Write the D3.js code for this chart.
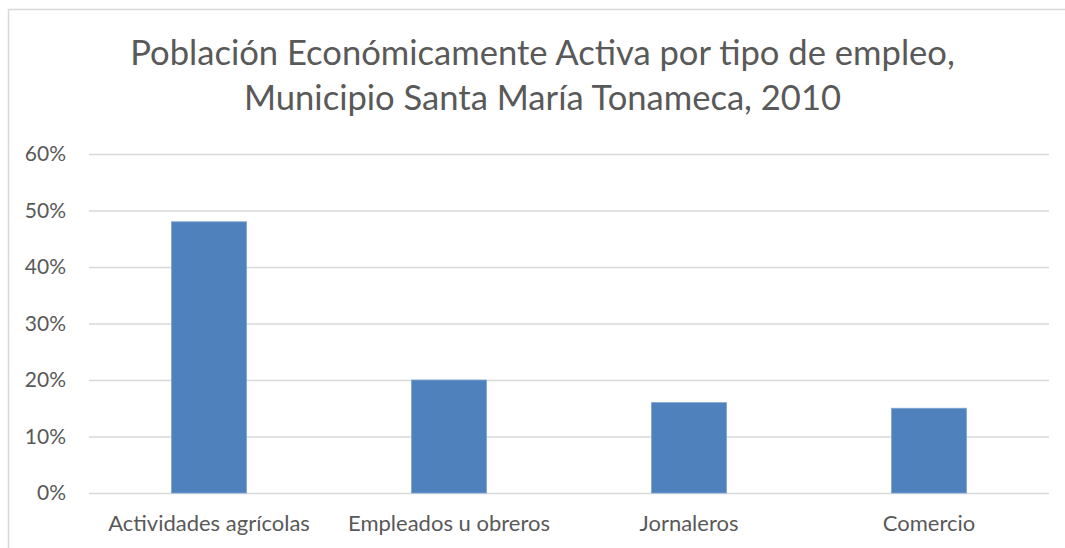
<!DOCTYPE html>
<html>
<head>
<meta charset="utf-8">
<script src="https://cdn.jsdelivr.net/npm/d3@7"></script>
<style>
  body { margin: 0; background: #fff; }
  svg { display: block; font-family: Lato, "Open Sans", sans-serif; }
</style>
</head>
<body>
<svg id="chart" width="1065" height="548"></svg>
<script>
// datos
const categories = ["Actividades agrícolas", "Empleados u obreros", "Jornaleros", "Comercio"];
const values = [0.48, 0.20, 0.16, 0.15];
const yTicks = [0, 0.1, 0.2, 0.3, 0.4, 0.5, 0.6];
const titleLines = ["Población Económicamente Activa por tipo de empleo,", "Municipio Santa María Tonameca, 2010"];

const width = 1065, height = 548;
const margin = {top: 154, right: 16, bottom: 55, left: 89};

const barColor = "#4f81bd";
const gridColor = "#d9d9d9";
const textColor = "#595959";

const svg = d3.select("#chart");

// borde del gráfico
svg.append("rect")
    .attr("x", 8.5).attr("y", 9.5)
    .attr("width", 1070).attr("height", 600)
    .attr("fill", "#fff")
    .attr("stroke", gridColor)
    .attr("stroke-width", 1.5);

const x = d3.scaleBand()
    .domain(categories)
    .range([margin.left, width - margin.right])
    .paddingInner(0.6875)
    .paddingOuter(0.34375);

const y = d3.scaleLinear()
    .domain([0, 0.6])
    .range([height - margin.bottom, margin.top]);

// líneas de cuadrícula + etiquetas
const yAxis = d3.axisLeft(y)
    .tickValues(yTicks)
    .tickFormat(d3.format(".0%"))
    .tickSize(-(width - margin.left - margin.right))
    .tickPadding(23);

const gy = svg.append("g")
    .attr("transform", `translate(${margin.left},0)`)
    .call(yAxis);
gy.select(".domain").remove();
gy.selectAll(".tick line").attr("stroke", gridColor).attr("stroke-width", 1.5);
gy.selectAll(".tick text")
    .attr("fill", textColor)
    .style("font-size", "21px")
    .style("font-family", "Lato, sans-serif");

// barras
svg.selectAll(".bar")
    .data(values)
    .enter()
    .append("rect")
    .attr("class", "bar")
    .attr("x", (d, i) => x(categories[i]))
    .attr("y", d => y(d))
    .attr("width", x.bandwidth())
    .attr("height", d => y(0) - y(d))
    .attr("fill", barColor)
    .attr("stroke", "#7ea3d2")
    .attr("stroke-width", 0.8);

// eje x
const xAxis = d3.axisBottom(x).tickSize(0).tickPadding(22);
const gx = svg.append("g")
    .attr("transform", `translate(0,${y(0)})`)
    .call(xAxis);
gx.select(".domain").remove();
gx.selectAll(".tick text")
    .attr("fill", textColor)
    .style("font-size", "22px")
    .style("font-family", "Lato, sans-serif");

// título
svg.append("text")
    .attr("x", width / 2 + 10)
    .attr("text-anchor", "middle")
    .attr("fill", textColor)
    .style("font-size", "34.6px")
    .style("font-weight", 400)
    .selectAll("tspan")
    .data(titleLines)
    .enter()
    .append("tspan")
    .attr("x", width / 2 + 10)
    .attr("y", (d, i) => 65 + i * 45)
    .text(d => d);
</script>
</body>
</html>
